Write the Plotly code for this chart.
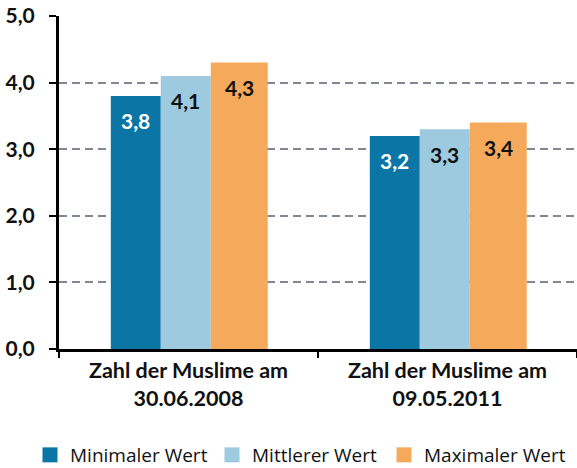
import plotly.graph_objects as go

categories = ["Zahl der Muslime am<br>30.06.2008", "Zahl der Muslime am<br>09.05.2011"]
series_names = ["Minimaler Wert", "Mittlerer Wert", "Maximaler Wert"]
min_values = [3.8, 3.2]
mid_values = [4.1, 3.3]
max_values = [4.3, 3.4]
y_ticks = [0, 1, 2, 3, 4, 5]
y_tick_labels = ["0,0", "1,0", "2,0", "3,0", "4,0", "5,0"]

colors = ["#0b76a5", "#9dcadf", "#f5aa5b"]
label_colors = ["#ffffff", "#111111", "#111111"]
offsets = [-0.300, -0.107, 0.086]
widths = [0.193, 0.193, 0.220]
legend_ids = ["legend", "legend2", "legend3"]
legend_x_px = [30, 212, 384]
FONT = "Lato"
LEG_FONT = "Open Sans"

fig = go.Figure()
all_values = [min_values, mid_values, max_values]
annotations = []
for name, vals, col, off, w, lc, lid in zip(series_names, all_values, colors, offsets,
                                             widths, label_colors, legend_ids):
    fig.add_trace(go.Bar(
        x=categories, y=vals, name=name,
        marker=dict(color=col, line=dict(width=0)),
        offset=off, width=w, showlegend=False,
    ))
    fig.add_trace(go.Scatter(
        x=[None], y=[None], mode="markers", name=name, legend=lid,
        marker=dict(symbol="square", size=15, color=col),
    ))
    for i, v in enumerate(vals):
        annotations.append(dict(
            x=i + off + w / 2, y=v, xref="x", yref="y",
            text=f"{v:.1f}".replace(".", ","), showarrow=False,
            yanchor="middle", yshift=-25,
            font=dict(family=FONT, size=21, color=lc, weight="bold"),
        ))

legend_common = dict(
    orientation="h", xref="container", xanchor="left",
    yref="container", y=1 - 455 / 468, yanchor="middle",
    font=dict(family=LEG_FONT, size=19, color="#111111"),
    itemwidth=30, bgcolor="rgba(0,0,0,0)",
)
legend_layout = {
    lid: dict(legend_common, x=xp / 577) for lid, xp in zip(legend_ids, legend_x_px)
}

fig.update_layout(
    width=577, height=468,
    margin=dict(l=59, r=0, t=16, b=119, autoexpand=False),
    plot_bgcolor="white", paper_bgcolor="white",
    font=dict(family=FONT, size=20, color="#111111"),
    annotations=annotations,
    **legend_layout,
    xaxis=dict(
        type="category", categoryorder="array", categoryarray=categories,
        range=[-0.5, 1.5], automargin=False,
        tickson="boundaries", ticks="outside", ticklen=6, tickwidth=2, tickcolor="black",
        showline=True, linecolor="black", linewidth=3,
        showgrid=False, zeroline=False,
        tickfont=dict(family=FONT, size=21.5, color="#111111", weight="bold"),
    ),
    yaxis=dict(
        range=[0, 5], tickmode="array", tickvals=y_ticks, ticktext=y_tick_labels,
        automargin=False,
        ticks="outside", ticklen=7, tickwidth=2, tickcolor="black",
        ticklabelstandoff=10,
        showline=True, linecolor="black", linewidth=3,
        showgrid=True, gridcolor="#7f8893", gridwidth=1.5, griddash="8px,5px",
        zeroline=False,
        tickfont=dict(family=FONT, size=21, color="#111111", weight="bold"),
    ),
)

fig.write_html(
    "out.html",
    config={"displayModeBar": False},
    post_script="document.body.style.margin='0';document.body.style.padding='0';",
)
